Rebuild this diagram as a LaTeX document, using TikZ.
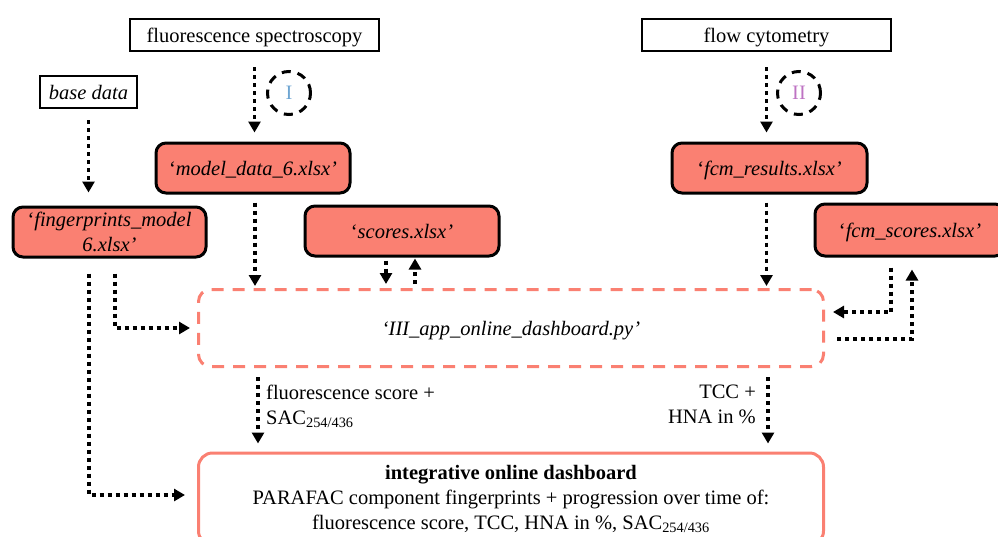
\documentclass[tikz,border=0pt]{standalone}
\usepackage{fontspec}
\setmainfont{Liberation Serif}
\usetikzlibrary{arrows.meta}
\definecolor{salmonfill}{RGB}{250,128,114}
\definecolor{romanI}{RGB}{110,165,210}
\definecolor{romanII}{RGB}{190,115,195}

\begin{document}
\begin{tikzpicture}[x=1pt,y=-1pt,
  every node/.style={font=\fontsize{20.5}{25}\selectfont},
  oneline/.style={text height=15pt,text depth=1pt},
  srcbox/.style={draw,line width=2.5pt,inner sep=0pt,minimum height=32pt,oneline},
  filebox/.style={draw,line width=3pt,rounded corners=10pt,fill=salmonfill,inner sep=0pt,minimum height=50pt,align=center},
  markcircle/.style={draw,circle,line width=3pt,dash pattern=on 9pt off 7pt,minimum size=43pt,inner sep=0pt},
  flowarrow/.style={line width=3.8pt,dash pattern=on 4pt off 4pt,-{Triangle[width=12pt,length=11pt]}},
  ]
\useasboundingbox (0,0) rectangle (998,536);
\clip (0,0) rectangle (998,536);

\node[srcbox,minimum width=249pt] (spec) at (254.5,35) {fluorescence spectroscopy};
\node[srcbox,minimum width=249pt] (flow) at (766.5,35) {flow cytometry};
\node[srcbox,minimum width=97pt] (base) at (88.5,92) {\textit{base data}};
\node[markcircle,text=romanI] (circI) at (289,93) {I};
\node[markcircle,text=romanII] (circII) at (799,93) {II};

\node[filebox,oneline,minimum width=194pt] (model) at (253,168) {‘\textit{model\_data\_6.xlsx’}};
\node[filebox,minimum width=193pt] (finger) at (109.5,232) {‘\textit{fingerprints\_model}\\\textit{6.xlsx’}};
\node[filebox,oneline,minimum width=194pt] (scores) at (402,231) {‘\textit{scores.xlsx’}};
\node[filebox,oneline,minimum width=195pt] (fcmres) at (769.5,168) {‘\textit{fcm\_results.xlsx’}};
\node[filebox,oneline,minimum width=190pt,minimum height=52pt] (fcmsc) at (910,230) {‘\textit{fcm\_scores.xlsx’}};

\node[draw=salmonfill,line width=3pt,dash pattern=on 12pt off 9pt,rounded corners=12pt,minimum width=625pt,minimum height=77pt,oneline] (app) at (511,328) {\textit{‘III\_app\_online\_dashboard.py’}};
\node[draw=salmonfill,line width=3pt,rounded corners=14pt,minimum width=625pt,minimum height=92pt,align=center,inner sep=0pt] (dash) at (511,499) {\textbf{integrative online dashboard}\\PARAFAC component fingerprints + progression over time of:\\fluorescence score, TCC, HNA in \%, SAC\textsubscript{254/436}};

\draw[flowarrow] ([yshift=-15pt]spec.south) -- ([yshift=9pt]spec.south |- model.north);
\draw[flowarrow] ([yshift=-15pt]flow.south) -- ([yshift=9pt]flow.south |- fcmres.north);
\draw[flowarrow] ([yshift=-11pt]base.south) -- ([yshift=13pt]base.south |- finger.north);
\draw[flowarrow] ([xshift=2pt,yshift=-8pt]model.south) -- ([xshift=2pt,yshift=2pt]model.south |- app.north);
\draw[flowarrow] ([xshift=-16pt,yshift=-3pt]scores.south) -- ([xshift=-16pt,yshift=4pt]scores.south |- app.north);
\draw[flowarrow] ([xshift=13pt,yshift=4pt]scores.south |- app.north) -- ([xshift=13pt,yshift=-1pt]scores.south);
\draw[flowarrow] ([xshift=-3pt,yshift=-8pt]fcmres.south) -- ([xshift=-3pt,yshift=2pt]fcmres.south |- app.north);
\draw[flowarrow] ([xshift=-19pt,yshift=-10pt]fcmsc.south) |- ([xshift=8pt,yshift=16pt]app.east);
\draw[flowarrow] ([xshift=12pt,yshift=-11pt]app.east) -| ([xshift=2pt,yshift=-12pt]fcmsc.south);
\draw[flowarrow] ([xshift=-20.5pt,yshift=-15pt]finger.south) |- ([xshift=-12pt,yshift=4pt]dash.west);
\draw[flowarrow] ([xshift=5.5pt,yshift=-15pt]finger.south) |- ([xshift=-7pt]app.west);
\draw[flowarrow] ([xshift=-253pt,yshift=-9pt]app.south) -- ([xshift=-253pt,yshift=8pt]dash.north);
\draw[flowarrow] ([xshift=257pt,yshift=-9pt]app.south) -- ([xshift=257pt,yshift=8pt]dash.north);

\node[anchor=north west,align=left,inner sep=0pt] (lblfl) at (266,385) {fluorescence score +\\SAC\textsubscript{254/436}};
\node[anchor=north east,align=right,inner sep=0pt] (lbltcc) at (756,385) {TCC +\\HNA in \%};
\end{tikzpicture}
\end{document}
